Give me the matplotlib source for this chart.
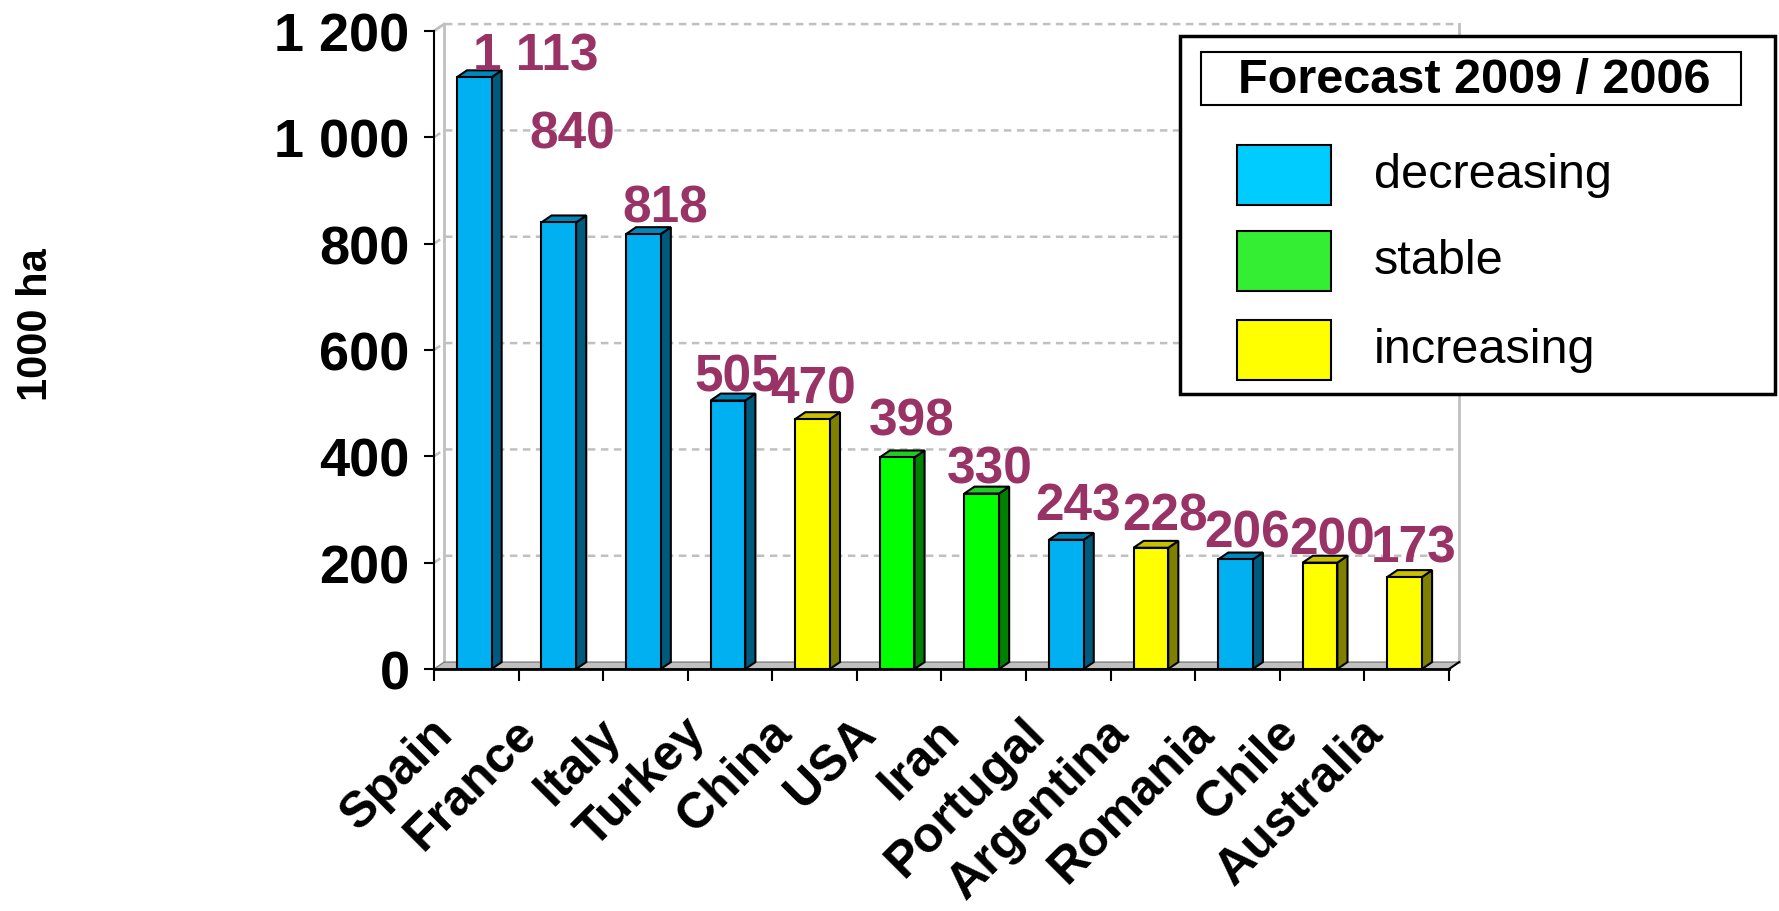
import matplotlib

matplotlib.use("Agg")
import matplotlib.pyplot as plt
import numpy as np
from matplotlib.patches import Polygon, Rectangle
from matplotlib.ticker import FuncFormatter
from matplotlib.transforms import ScaledTranslation

plt.rcParams["font.family"] = ["Liberation Sans", "DejaVu Sans"]

COUNTRIES = ["Spain", "France", "Italy", "Turkey", "China", "USA", "Iran",
             "Portugal", "Argentina", "Romania", "Chile", "Australia"]
AREA = [1113, 840, 818, 505, 470, 398, 330, 243, 228, 206, 200, 173]
TREND = ["decreasing", "decreasing", "decreasing", "decreasing", "increasing",
         "stable", "stable", "decreasing", "increasing", "decreasing",
         "increasing", "increasing"]
YTICKS = [0, 200, 400, 600, 800, 1000, 1200]
LEGEND_ORDER = ["decreasing", "stable", "increasing"]
LEGEND_TITLE = "Forecast 2009 / 2006"

# front / side / top shades of the fake 3D boxes
FACE = {
    "decreasing": ("#00b0f0", "#005a7e", "#0088bb"),
    "stable": ("#00ff00", "#008000", "#22cc22"),
    "increasing": ("#ffff00", "#808000", "#c8c000"),
}
LEGEND_COLORS = {"decreasing": "#00ccff", "stable": "#33ee33", "increasing": "#ffff00"}
LABEL_COLOR = "#993366"
WALL = "#c0c0c0"

# where the value labels ended up relative to each bar top (points)
LABEL_OFFSETS = [(43, 15), (8, 64), (14, 19), (5, 17), (-1, 22), (9, 26),
                 (4, 18), (7, 24), (9, 23), (7, 19), (7, 16), (5, 21)]

W_PX, H_PX = 1779, 912
BAR_W = 0.41
DX, DY = 0.12, 13  # depth of walls/boxes in data units


def thousands(v, _pos=None):
    return f"{int(v):,}".replace(",", " ")


fig = plt.figure(figsize=(W_PX / 100, H_PX / 100), dpi=100)
ax = fig.add_axes([434 / W_PX, 1 - 670 / H_PX, 1015 / W_PX, 638 / H_PX])
n = len(COUNTRIES)
x = np.arange(n) + 0.5
ax.set_xlim(0, n)
ax.set_ylim(0, 1200)

# back wall, floor and gridlines
for v in YTICKS[1:]:
    ax.plot([0, DX, n + DX], [v, v + DY, v + DY], color=WALL, lw=1.8,
            ls=(0, (3, 2.2)), zorder=0.5, clip_on=False)
ax.plot([DX, DX], [DY, 1200 + DY], color=WALL, lw=2, zorder=0.6, clip_on=False)
ax.plot([n + DX, n + DX], [DY, 1200 + DY], color=WALL, lw=2, zorder=0.6, clip_on=False)
ax.plot([0, DX], [1200, 1200 + DY], color=WALL, lw=2, zorder=0.6, clip_on=False)
ax.add_patch(Polygon([(0, 0), (n, 0), (n + DX, DY), (DX, DY)], closed=True,
                     facecolor=WALL, edgecolor="#808080", lw=1, zorder=1, clip_on=False))
ax.plot([n, n + DX], [0, DY], color="black", lw=1.5, zorder=1.2, clip_on=False)

fronts = ax.bar(x - 0.025, AREA, BAR_W, color=[FACE[t][0] for t in TREND],
                edgecolor="black", linewidth=1.5, zorder=3)
for rect, t in zip(fronts, TREND):
    x0 = rect.get_x()
    x1 = x0 + rect.get_width()
    h = rect.get_height()
    ax.add_patch(Polygon([(x1, 0), (x1 + DX, DY), (x1 + DX, h + DY), (x1, h)],
                         closed=True, facecolor=FACE[t][1], edgecolor="black",
                         lw=1.5, zorder=2.9, clip_on=False))
    ax.add_patch(Polygon([(x0, h), (x1, h), (x1 + DX, h + DY), (x0 + DX, h + DY)],
                         closed=True, facecolor=FACE[t][2], edgecolor="black",
                         lw=1.5, zorder=2.9, clip_on=False))

for xi, v, (ox, oy) in zip(x, AREA, LABEL_OFFSETS):
    ax.annotate(thousands(v), (xi, v), xytext=(ox, oy), textcoords="offset points",
                ha="center", va="center", fontsize=37, fontweight="bold",
                color=LABEL_COLOR, zorder=5, annotation_clip=False)

# axes
for side in ("top", "right"):
    ax.spines[side].set_visible(False)
ax.spines["left"].set_linewidth(1.5)
ax.spines["bottom"].set_linewidth(2)
ax.spines["bottom"].set_zorder(4)

ax.set_yticks(YTICKS)
ax.yaxis.set_major_formatter(FuncFormatter(thousands))
ax.tick_params(axis="y", length=7.5, width=1.5, pad=10, labelsize=39)
for lab in ax.get_yticklabels():
    lab.set_fontweight("bold")

ax.set_xticks(x)
ax.set_xticks(np.arange(n + 1), minor=True)
ax.tick_params(axis="x", which="major", length=0, pad=29)
ax.tick_params(axis="x", which="minor", length=8.5, width=1.5)
ax.set_xticklabels(COUNTRIES, rotation=45, ha="right", va="top",
                   rotation_mode="anchor", fontsize=36, fontweight="bold")
shift = ScaledTranslation(-34 / 72, 0, fig.dpi_scale_trans)
for lab in ax.get_xticklabels():
    lab.set_transform(lab.get_transform() + shift)

fig.text(36 / W_PX, 1 - 325 / H_PX, "1000 ha", rotation=90, ha="center",
         va="center", fontsize=30, fontweight="bold")

# legend box, drawn in pixel space
lg = fig.add_axes([0, 0, 1, 1])
lg.set_xlim(0, W_PX)
lg.set_ylim(H_PX, 0)
lg.axis("off")
lg.add_patch(Rectangle((1180, 37), 595, 358, facecolor="white", edgecolor="black", lw=2.5))
lg.add_patch(Rectangle((1201, 53), 540, 53, facecolor="white", edgecolor="black", lw=1.5))
lg.text(1474, 80, LEGEND_TITLE, ha="center", va="center", fontsize=35, fontweight="bold")
for label, y0 in zip(LEGEND_ORDER, (146, 232, 321)):
    lg.add_patch(Rectangle((1237, y0), 94, 60, facecolor=LEGEND_COLORS[label],
                           edgecolor="black", lw=1.5))
    lg.text(1374, y0 + 30, label, ha="left", va="center", fontsize=35)

fig.savefig("out.png", dpi=100)
